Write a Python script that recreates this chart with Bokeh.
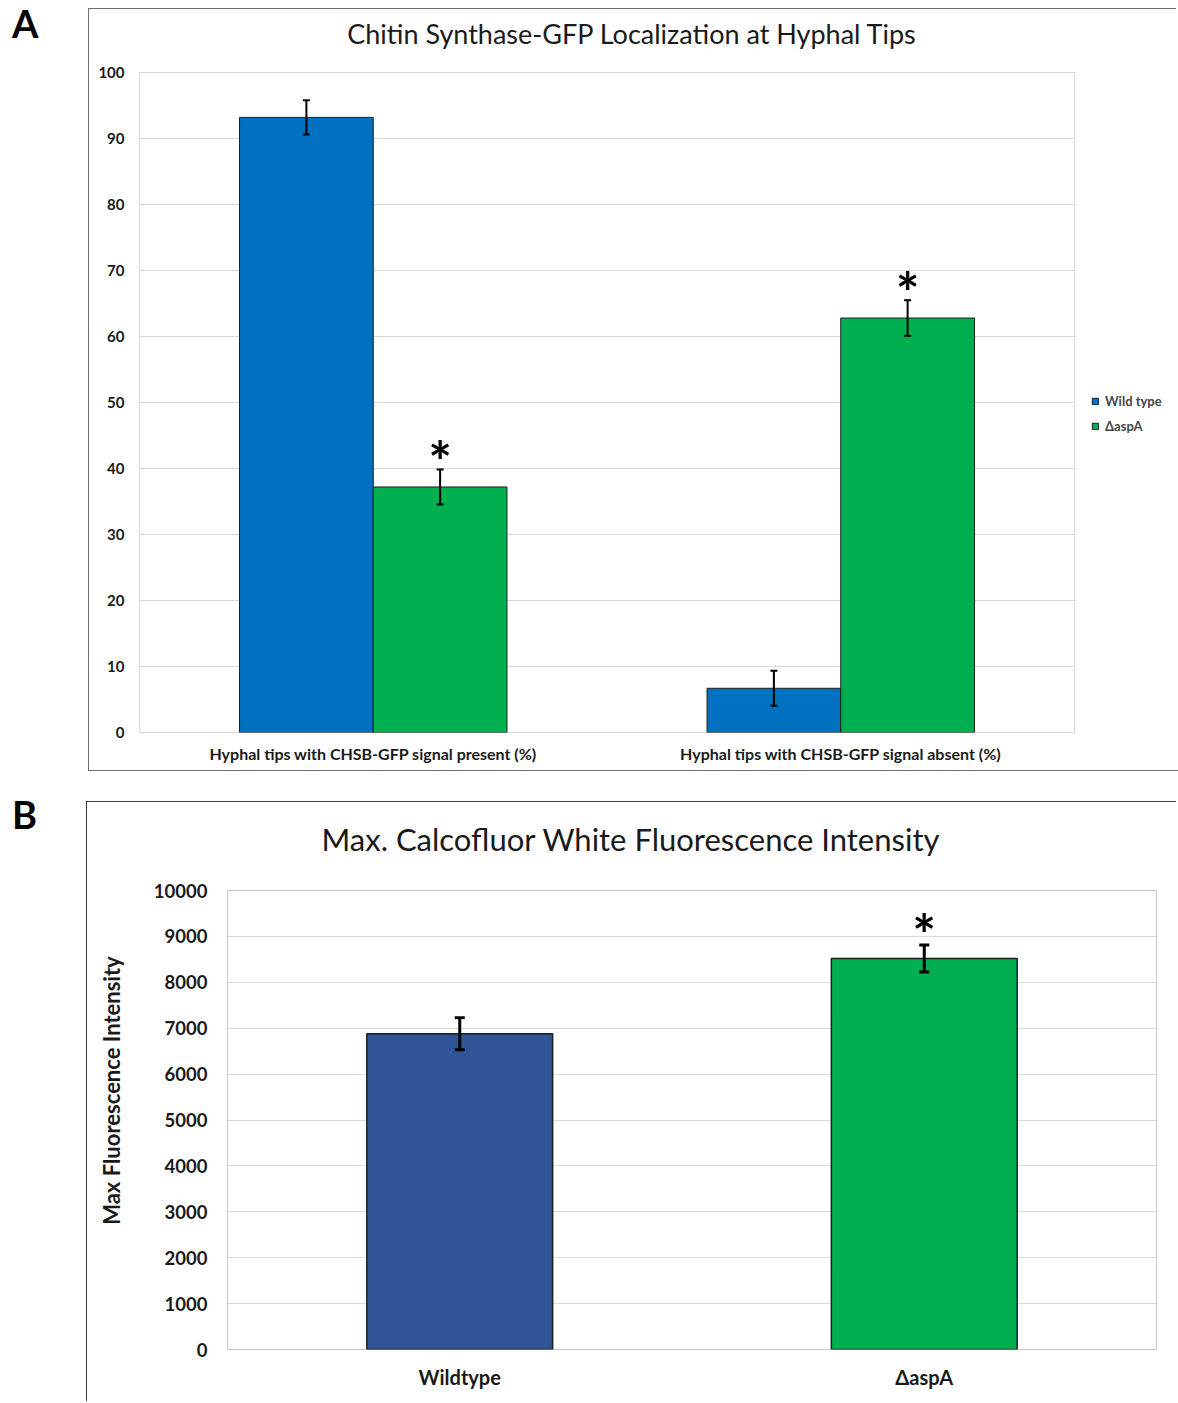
from bokeh.plotting import figure
from bokeh.models import (FactorRange, ColumnDataSource, Whisker, TeeHead, Div, Spacer,
                          Legend, LegendItem, Range1d, SingleIntervalTicker)
from bokeh.transform import dodge, factor_cmap
from bokeh.layouts import row, column
from bokeh.embed import file_html
from bokeh.resources import INLINE
from bokeh.core.properties import value

# ---------------- data ----------------
a_title = "Chitin Synthase-GFP Localization at Hyphal Tips"
a_categories = ["Hyphal tips with CHSB-GFP signal present (%)",
                "Hyphal tips with CHSB-GFP signal absent (%)"]
a_series = ["Wild type", "\u0394aspA"]
a_wt = [93.2, 6.7]
a_wt_err = [2.6, 2.65]
a_asp = [37.2, 62.8]
a_asp_err = [2.65, 2.7]
a_asp_sig = [True, True]
a_yticks_interval = 10

b_title = "Max. Calcofluor White Fluorescence Intensity"
b_ylabel = "Max Fluorescence Intensity"
b_categories = ["Wildtype", "\u0394aspA"]
b_values = [6880, 8520]
b_err = [350, 295]
b_sig = [False, True]
b_yticks_interval = 1000

FONT = value("Lato")
WT_A = "#0070C0"
ASP = "#00B050"
WT_B = "#2F5597"
GRID = "#d9d9d9"
BOX_A = "1.5px solid #707070"
BOX_B = "1.5px solid #3a3a3a"


def style_axes(p, size):
    for ax in (p.xaxis[0], p.yaxis[0]):
        ax.axis_line_color = None
        ax.major_tick_line_color = None
        ax.minor_tick_line_color = None
        ax.major_tick_out = 0
        ax.major_tick_in = 0
        ax.minor_tick_out = 0
        ax.major_label_text_font = "Lato"
        ax.major_label_text_font_style = "bold"
        ax.major_label_text_font_size = size
        ax.major_label_text_color = "#1a1a1a"


def letter_div(ch, w, h):
    return Div(text=('<div style="font-family:Lato;font-weight:700;font-size:38px;'
                     'line-height:46px;padding-left:12px;color:#000;margin:0">%s</div>' % ch),
               width=w, height=h, margin=0)


def title_div(text, w, h, size, pad_top, pad_left, inner_w, border):
    return Div(text=('<div style="font-family:Lato;font-weight:400;font-size:%dpx;line-height:%.1fpx;'
                     'text-align:center;padding-top:%dpx;padding-left:%dpx;width:%dpx;color:#1a1a1a;'
                     'margin:0;white-space:nowrap">%s</div>'
                     % (size, size * 1.2, pad_top, pad_left, inner_w, text)),
               width=w, height=h, margin=0,
               styles={"border-left": border, "border-top": border})


# ---------------- panel A ----------------
pa = figure(x_range=FactorRange(*a_categories, range_padding=0), y_range=Range1d(0, 100),
            frame_width=934, frame_height=659, min_border_left=50, min_border_right=104,
            min_border_top=12, min_border_bottom=39, output_backend="svg",
            toolbar_location=None, title=None, margin=0,
            styles={"border-left": BOX_A, "border-bottom": BOX_A})
pa.outline_line_color = GRID
pa.xgrid.grid_line_color = None
pa.ygrid.grid_line_color = GRID
pa.yaxis.ticker = SingleIntervalTicker(interval=a_yticks_interval)
style_axes(pa, "15px")
pa.xaxis.major_label_text_font_size = "16px"
pa.yaxis.major_label_standoff = 15
pa.xaxis.major_label_standoff = 11

lo_wt = [v - e for v, e in zip(a_wt, a_wt_err)]
hi_wt = [v + e for v, e in zip(a_wt, a_wt_err)]
lo_asp = [v - e for v, e in zip(a_asp, a_asp_err)]
hi_asp = [v + e for v, e in zip(a_asp, a_asp_err)]
src_a = ColumnDataSource(dict(cat=a_categories, wt=a_wt, asp=a_asp, lo_wt=lo_wt, hi_wt=hi_wt,
                              lo_asp=lo_asp, hi_asp=hi_asp))
OFF = 0.143
BW = 0.286
r_wt = pa.vbar(x=dodge('cat', -OFF, range=pa.x_range), top='wt', width=BW, source=src_a,
               fill_color=WT_A, line_color="#1f1f1f", line_width=1)
r_asp = pa.vbar(x=dodge('cat', OFF, range=pa.x_range), top='asp', width=BW, source=src_a,
                fill_color=ASP, line_color="#1f1f1f", line_width=1)
for off, lo, hi in ((-OFF, 'lo_wt', 'hi_wt'), (OFF, 'lo_asp', 'hi_asp')):
    pa.add_layout(Whisker(base=dodge('cat', off, range=pa.x_range), lower=lo, upper=hi, source=src_a,
                          line_color="black", line_width=2, level="annotation",
                          upper_head=TeeHead(size=7, line_width=2, line_color="black"),
                          lower_head=TeeHead(size=7, line_width=2, line_color="black")))
sig_cats = [c for c, s in zip(a_categories, a_asp_sig) if s]
sig_y = [h for h, s in zip(hi_asp, a_asp_sig) if s]
src_sa = ColumnDataSource(dict(cat=sig_cats, y=sig_y, t=["*"] * len(sig_cats)))
pa.text(x=dodge('cat', OFF, range=pa.x_range), y='y', text='t', source=src_sa,
        text_font=FONT, text_font_style="bold", text_font_size="56px",
        text_align="center", text_baseline="alphabetic", y_offset=-9, text_color="black")

leg = Legend(items=[LegendItem(label=a_series[0], renderers=[r_wt]),
                    LegendItem(label=a_series[1], renderers=[r_asp])],
             location=(17, 297), orientation="vertical", glyph_width=8, glyph_height=8,
             label_height=18, spacing=7, padding=0, margin=0, label_standoff=6,
             label_text_font="Lato", label_text_font_style="bold", label_text_font_size="13px",
             border_line_color=None, background_fill_alpha=0)
pa.add_layout(leg, "right")

root_a = row(column(letter_div("A", 88, 50), margin=0),
             column(Spacer(height=8, width=10, margin=0),
                    title_div(a_title, 1088, 52, 27, 9, 5, 1080, BOX_A), pa,
                    spacing=0, margin=0),
             spacing=0, margin=0)

# ---------------- panel B ----------------
pb = figure(x_range=FactorRange(*b_categories, range_padding=0), y_range=Range1d(0, 10000),
            frame_width=928, frame_height=459, min_border_left=140, min_border_right=22,
            min_border_top=17, min_border_bottom=52, output_backend="svg",
            toolbar_location=None, title=None, margin=0,
            styles={"border-left": BOX_B})
pb.outline_line_color = "#c8c8c8"
pb.xgrid.grid_line_color = None
pb.ygrid.grid_line_color = GRID
pb.yaxis.ticker = SingleIntervalTicker(interval=b_yticks_interval)
style_axes(pb, "18.5px")
pb.xaxis.major_label_text_font_size = "20px"
pb.yaxis.major_label_standoff = 20
pb.xaxis.major_label_standoff = 15
# leading no-break spaces lift the label along the axis, as in the original
pb.yaxis.axis_label = "\u00a0" * 11 + b_ylabel
pb.yaxis.axis_label_text_font = "Lato"
pb.yaxis.axis_label_text_font_style = "bold"
pb.yaxis.axis_label_text_font_size = "22px"
pb.yaxis.axis_label_standoff = 26
pb.yaxis.axis_label_text_color = "#1a1a1a"

src_b = ColumnDataSource(dict(cat=b_categories, v=b_values,
                              lo=[v - e for v, e in zip(b_values, b_err)],
                              hi=[v + e for v, e in zip(b_values, b_err)]))
pb.vbar(x='cat', top='v', width=0.4, source=src_b,
        fill_color=factor_cmap('cat', palette=[WT_B, ASP], factors=b_categories),
        line_color="#1f1f1f", line_width=1.5)
pb.add_layout(Whisker(base='cat', lower='lo', upper='hi', source=src_b, line_color="black",
                      line_width=3, level="annotation",
                      upper_head=TeeHead(size=10, line_width=3, line_color="black"),
                      lower_head=TeeHead(size=10, line_width=3, line_color="black")))
sig_b = ColumnDataSource(dict(cat=[c for c, s in zip(b_categories, b_sig) if s],
                              y=[v + e for v, e, s in zip(b_values, b_err, b_sig) if s],
                              t=["*" for s in b_sig if s]))
pb.text(x='cat', y='y', text='t', source=sig_b, text_font=FONT, text_font_style="bold",
        text_font_size="56px", text_align="center", text_baseline="alphabetic", y_offset=-11,
        text_color="black")

root_b = row(column(Spacer(height=20, width=10, margin=0), letter_div("B", 86, 50),
                    spacing=0, margin=0),
             column(Spacer(height=30, width=10, margin=0),
                    title_div(b_title, 1090, 72, 31, 19, 7, 1080, BOX_B), pb,
                    spacing=0, margin=0),
             spacing=0, margin=0)

open("out.html", "w").write(file_html([root_a, root_b], INLINE))
